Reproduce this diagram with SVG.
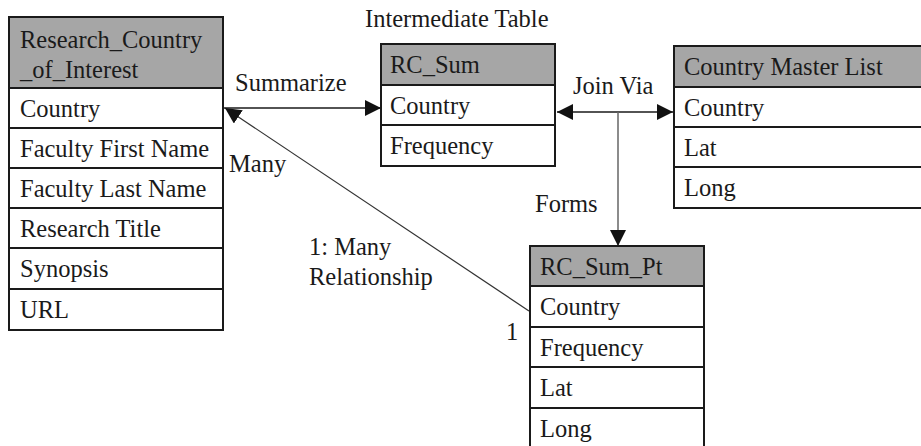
<svg xmlns="http://www.w3.org/2000/svg" width="921" height="446" viewBox="0 0 921 446">
  <style>
    text { font-family: "Liberation Serif", "Times New Roman", serif; font-size: 24.5px; fill: #1a1a1a; }
    .hdr { fill: #a6a6a6; stroke: #1a1a1a; stroke-width: 2; }
    .row { fill: #ffffff; stroke: #1a1a1a; stroke-width: 2; }
    .conn { fill: none; stroke: #1a1a1a; stroke-width: 1.5; }
    .thin { fill: none; stroke: #333; stroke-width: 1.2; }
    .gray { fill: none; stroke: #666; stroke-width: 1.5; }
  </style>
  <defs>
    <marker id="arrow" viewBox="0 0 10 10" refX="10" refY="5" markerWidth="16" markerHeight="16" markerUnits="userSpaceOnUse" orient="auto-start-reverse">
      <path d="M0,0 L10,5 L0,10 Z" fill="#111"/>
    </marker>
  </defs>

  <!-- connectors -->
  <g id="connectors">
    <line class="conn" x1="224" y1="108" x2="381" y2="108" marker-end="url(#arrow)"/>
    <line class="conn" x1="557" y1="112" x2="673" y2="112" marker-start="url(#arrow)" marker-end="url(#arrow)"/>
    <line class="gray" x1="618" y1="112" x2="618" y2="246" marker-end="url(#arrow)"/>
    <line class="thin" x1="529" y1="311" x2="225" y2="108" marker-end="url(#arrow)"/>
  </g>

  <!-- connector labels -->
  <g id="labels">
    <text x="365" y="27">Intermediate Table</text>
    <text x="235" y="91">Summarize</text>
    <text x="573" y="94">Join Via</text>
    <text x="229" y="172">Many</text>
    <text x="535" y="212">Forms</text>
    <text x="309" y="255">1: Many</text>
    <text x="309" y="285">Relationship</text>
    <text x="506" y="340">1</text>
  </g>

  <!-- Research_Country_of_Interest -->
  <g id="research-country">
    <rect class="hdr" x="9" y="17" width="214" height="71"/>
    <text x="20" y="48">Research_Country</text>
    <text x="20" y="78">_of_Interest</text>
    <rect class="row" x="9" y="88" width="214" height="40"/>
    <text x="20" y="117">Country</text>
    <rect class="row" x="9" y="128" width="214" height="40"/>
    <text x="20" y="157">Faculty First Name</text>
    <rect class="row" x="9" y="168" width="214" height="40"/>
    <text x="20" y="197">Faculty Last Name</text>
    <rect class="row" x="9" y="208" width="214" height="40"/>
    <text x="20" y="237">Research Title</text>
    <rect class="row" x="9" y="248" width="214" height="41"/>
    <text x="20" y="277">Synopsis</text>
    <rect class="row" x="9" y="289" width="214" height="41"/>
    <text x="20" y="318">URL</text>
  </g>

  <!-- RC_Sum -->
  <g id="rc-sum">
    <rect class="hdr" x="381" y="44" width="174" height="41"/>
    <text x="390" y="73">RC_Sum</text>
    <rect class="row" x="381" y="85" width="174" height="40"/>
    <text x="390" y="114">Country</text>
    <rect class="row" x="381" y="125" width="174" height="41"/>
    <text x="390" y="154">Frequency</text>
  </g>

  <!-- Country Master List -->
  <g id="country-master">
    <rect class="hdr" x="674" y="46" width="260" height="41"/>
    <text x="684" y="75">Country Master List</text>
    <rect class="row" x="674" y="87" width="260" height="40"/>
    <text x="684" y="116">Country</text>
    <rect class="row" x="674" y="127" width="260" height="40"/>
    <text x="684" y="156">Lat</text>
    <rect class="row" x="674" y="167" width="260" height="41"/>
    <text x="684" y="196">Long</text>
  </g>

  <!-- RC_Sum_Pt -->
  <g id="rc-sum-pt">
    <rect class="hdr" x="530" y="246" width="174" height="40"/>
    <text x="540" y="275">RC_Sum_Pt</text>
    <rect class="row" x="530" y="286" width="174" height="41"/>
    <text x="540" y="315">Country</text>
    <rect class="row" x="530" y="327" width="174" height="40"/>
    <text x="540" y="356">Frequency</text>
    <rect class="row" x="530" y="367" width="174" height="41"/>
    <text x="540" y="396">Lat</text>
    <rect class="row" x="530" y="408" width="174" height="50"/>
    <text x="540" y="437">Long</text>
  </g>
</svg>
